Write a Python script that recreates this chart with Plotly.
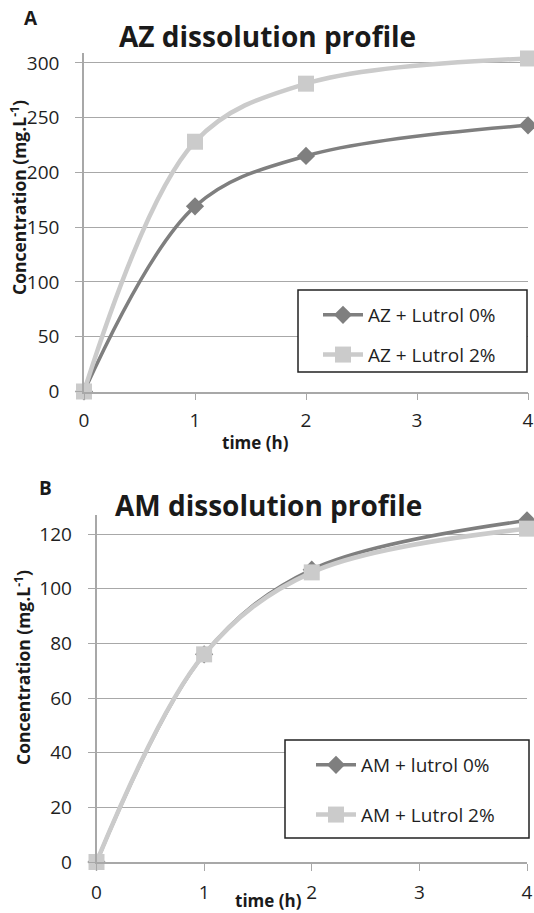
import plotly.graph_objects as go

time_h = [0, 1, 2, 4]
az_lutrol0 = [0, 169, 215, 243]
az_lutrol2 = [0, 228, 281, 304]
am_lutrol0 = [0, 76, 107, 125]
am_lutrol2 = [0, 76, 106, 122]

az_names = ["AZ + Lutrol 0%", "AZ + Lutrol 2%"]
am_names = ["AM + lutrol 0%", "AM + Lutrol 2%"]
az_yticks = [0, 50, 100, 150, 200, 250, 300]
am_yticks = [0, 20, 40, 60, 80, 100, 120]
x_ticks = [0, 1, 2, 3, 4]

DARK = "#7f7f7f"
LIGHT = "#cbcbcb"
GRID = "#a8a8a8"
TXT = "#1f1f1f"
FONT = "Open Sans"
W, H = 534, 913

fig = go.Figure()

def add_pair(ys0, ys2, names, xa, ya, leg):
    fig.add_trace(go.Scatter(
        x=time_h, y=ys0, name=names[0], mode="lines+markers",
        line=dict(color=DARK, width=3.5, shape="spline", smoothing=1),
        marker=dict(symbol="diamond", size=14, color=DARK),
        xaxis=xa, yaxis=ya, legend=leg, legendgroup=names[0], cliponaxis=False))
    fig.add_trace(go.Scatter(
        x=time_h, y=ys2, name=names[1], mode="lines+markers",
        line=dict(color=LIGHT, width=4.5, shape="spline", smoothing=1),
        marker=dict(symbol="square", size=16, color=LIGHT),
        xaxis=xa, yaxis=ya, legend=leg, legendgroup=names[1], cliponaxis=False))

add_pair(az_lutrol0, az_lutrol2, az_names, "x", "y", "legend")
add_pair(am_lutrol0, am_lutrol2, am_names, "x2", "y2", "legend2")

def px_x(p):
    return p / W

def px_y(p):
    return 1 - p / H

axis_common = dict(
    showline=True, linecolor=GRID, linewidth=1.5,
    ticks="outside", tickcolor=GRID, ticklen=7, tickwidth=1.2,
    tickfont=dict(family=FONT, size=19, color=TXT),
    zeroline=False, automargin=False, ticklabeloverflow="allow",
)

fig.update_layout(
    width=W, height=H,
    margin=dict(l=0, r=0, t=0, b=0, autoexpand=False),
    paper_bgcolor="white", plot_bgcolor="white",
    font=dict(family=FONT, color=TXT),
    hovermode=False,
    xaxis=dict(domain=[px_x(84), px_x(528)], range=[0, 4], tickvals=x_ticks,
               showgrid=False, anchor="y", ticklabelstandoff=4, **axis_common),
    yaxis=dict(domain=[px_y(391.5), px_y(53)], range=[0, 309], tickvals=az_yticks,
               showgrid=True, gridcolor=GRID, gridwidth=1.2, anchor="x",
               ticklabelstandoff=12, **axis_common),
    xaxis2=dict(domain=[px_x(96.5), px_x(527)], range=[0, 4], tickvals=x_ticks,
                showgrid=False, anchor="y2", ticklabelstandoff=5, **axis_common),
    yaxis2=dict(domain=[px_y(862), px_y(515)], range=[0, 127], tickvals=am_yticks,
                showgrid=True, gridcolor=GRID, gridwidth=1.2, anchor="x2",
                ticklabelstandoff=12, **axis_common),
    legend=dict(x=px_x(318), y=px_y(296), xanchor="left", yanchor="top",
                borderwidth=0, bgcolor="rgba(0,0,0,0)",
                font=dict(family=FONT, size=19, color=TXT),
                tracegroupgap=12, itemwidth=40),
    legend2=dict(x=px_x(311), y=px_y(746), xanchor="left", yanchor="top",
                 borderwidth=0, bgcolor="rgba(0,0,0,0)",
                 font=dict(family=FONT, size=19, color=TXT),
                 tracegroupgap=22, itemwidth=40),
    showlegend=True,
)

shapes = [
    dict(type="rect", xref="paper", yref="paper", layer="above",
         x0=px_x(298), x1=px_x(527), y0=px_y(372), y1=px_y(290),
         line=dict(color="#222222", width=1.5), fillcolor="white"),
    dict(type="rect", xref="paper", yref="paper", layer="above",
         x0=px_x(285), x1=px_x(529), y0=px_y(838), y1=px_y(740),
         line=dict(color="#222222", width=1.5), fillcolor="white"),
]

ann = []
def text(x, y, t, size, angle=0):
    ann.append(dict(x=px_x(x), y=px_y(y), xref="paper", yref="paper", text=t,
                    showarrow=False, textangle=angle,
                    font=dict(family=FONT, size=size, color="#1a1a1a"),
                    xanchor="center", yanchor="middle"))

text(31, 18, "<b>A</b>", 19)
text(267, 36, "<b>AZ dissolution profile</b>", 28)
text(18, 198, "<b>Concentration (mg.L<sup>-1</sup>)</b>", 17.5, angle=-90)
text(255, 442, "<b>time (h)</b>", 17)

text(45, 488, "<b>B</b>", 19)
text(268, 505, "<b>AM dissolution profile</b>", 28)
text(22, 668, "<b>Concentration (mg.L<sup>-1</sup>)</b>", 17.5, angle=-90)
text(268, 900, "<b>time (h)</b>", 17)

fig.update_layout(annotations=ann, shapes=shapes)
fig.write_html(
    "out.html",
    config={"displayModeBar": False},
    post_script="document.body.style.margin='0';document.body.style.overflow='hidden';",
)
